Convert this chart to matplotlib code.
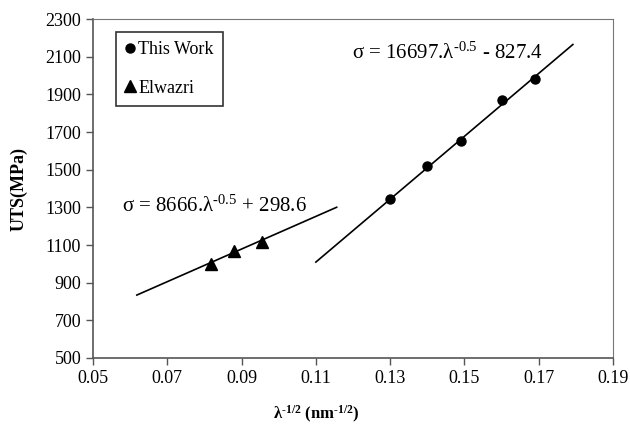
import numpy as np
import matplotlib
matplotlib.use('Agg')
from matplotlib import pyplot as plt

plt.rcParams['font.family'] = ['Liberation Serif', 'DejaVu Serif']
plt.rcParams['mathtext.fontset'] = 'custom'
plt.rcParams['mathtext.rm'] = 'Liberation Serif'
plt.rcParams['mathtext.it'] = 'Liberation Serif:italic'
plt.rcParams['mathtext.bf'] = 'Liberation Serif:bold'

# data
work_x = [0.130, 0.140, 0.149, 0.160, 0.169]
work_y = [1342, 1521, 1652, 1872, 1980]
elw_x = [0.0819, 0.0879, 0.0955]
elw_y = [1000, 1068, 1118]

# fitted lines: slope, intercept, x range
work_fit = (16697, -827.4, 0.110, 0.1792)
elw_fit = (8666, 298.6, 0.0618, 0.1156)

xticks = [0.05, 0.07, 0.09, 0.11, 0.13, 0.15, 0.17, 0.19]
yticks = [500, 700, 900, 1100, 1300, 1500, 1700, 1900, 2100, 2300]

fig = plt.figure(figsize=(6.3, 4.28), dpi=100)
ax = fig.add_axes([93/630, 1 - 358/428, 520/630, 339/428])

for m, b, x0, x1 in [work_fit, elw_fit]:
    xx = np.array([x0, x1])
    ax.plot(xx, m*xx + b, color='black', lw=1.2)

ax.plot(work_x, work_y, 'o', color='black', ms=6.5, label='This Work')
ax.plot(elw_x, elw_y, '^', color='black', ms=8, label='Elwazri')

ax.text(0.1197, 2090, r'$\mathrm{\sigma}$ = 16697.λ$^{\mathrm{‐0.5}}$ - 827.4', fontsize=15)
ax.text(0.0578, 1275, r'$\mathrm{\sigma}$ = 8666.λ$^{\mathrm{‐0.5}}$ + 298.6', fontsize=15)

ax.set_xlim(0.05, 0.19)
ax.set_ylim(500, 2300)
ax.set_xticks(xticks)
ax.set_xticklabels(['%.2f' % v for v in xticks])
ax.set_yticks(yticks)
ax.tick_params(direction='out', length=5, width=1, labelsize=13, color='#555555')
ax.tick_params(top=False, right=False)
for s in ['top', 'right']:
    ax.spines[s].set_color('#777777')
    ax.spines[s].set_linewidth(0.8)
for s in ['left', 'bottom']:
    ax.spines[s].set_color('#555555')
    ax.spines[s].set_linewidth(1.2)

ax.set_ylabel('UTS(MPa)', fontsize=13, fontweight='bold')
ax.set_xlabel(r'λ$^{\mathbf{‐1/2}}$ (nm$^{\mathbf{‐1/2}}$)', fontsize=12, fontweight='bold')
ax.yaxis.set_label_coords(-0.125, 0.5)
ax.xaxis.set_label_coords(0.43, -0.135)

leg = ax.legend(loc='upper left', bbox_to_anchor=(0.045, 0.962), fontsize=13,
                frameon=True, fancybox=False, edgecolor='black',
                handlelength=0.5, handletextpad=0.2, labelspacing=1.2,
                borderpad=0.5, borderaxespad=0)
leg.get_frame().set_linewidth(1.2)

plt.savefig('out.png', dpi=100)
